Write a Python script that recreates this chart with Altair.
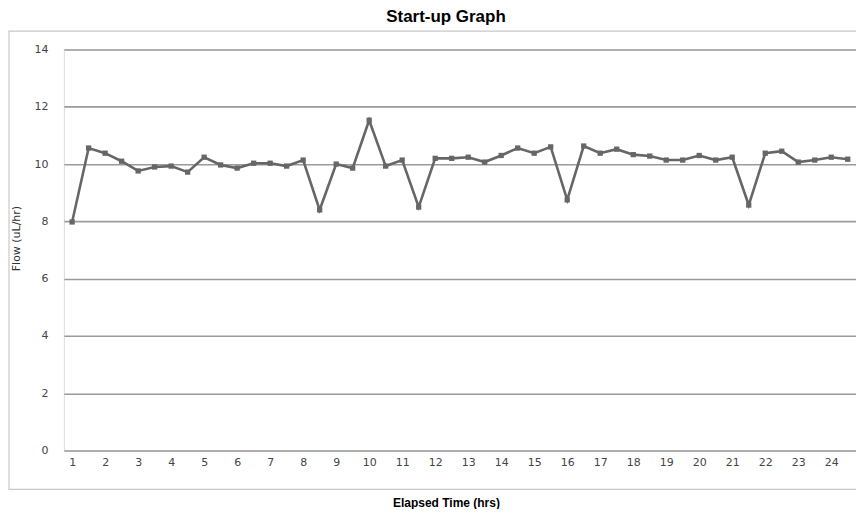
import altair as alt
import pandas as pd

hours = [1, 1.5, 2, 2.5, 3, 3.5, 4, 4.5, 5, 5.5, 6, 6.5, 7, 7.5, 8, 8.5,
         9, 9.5, 10, 10.5, 11, 11.5, 12, 12.5, 13, 13.5, 14, 14.5, 15, 15.5,
         16, 16.5, 17, 17.5, 18, 18.5, 19, 19.5, 20, 20.5, 21, 21.5, 22, 22.5,
         23, 23.5, 24, 24.5]
flow = [7.98, 10.56, 10.38, 10.1, 9.76, 9.9, 9.93, 9.72, 10.24, 9.97, 9.86, 10.03,
        10.03, 9.93, 10.14, 8.4, 10.0, 9.86, 11.53, 9.93, 10.14, 8.5, 10.2, 10.2,
        10.24, 10.07, 10.3, 10.56, 10.38, 10.6, 8.75, 10.63, 10.38, 10.52, 10.33, 10.28,
        10.14, 10.14, 10.3, 10.14, 10.24, 8.57, 10.38, 10.45, 10.07, 10.14, 10.24, 10.17]
x_ticks = list(range(1, 25))
y_ticks = [0, 2, 4, 6, 8, 10, 12, 14]

df = pd.DataFrame({"hour": hours, "flow": flow})

FONT = "DejaVu Sans"

xenc = alt.X("hour:Q", scale=alt.Scale(domain=[0.75, 24.75], nice=False, zero=False),
             axis=alt.Axis(values=x_ticks, grid=False, ticks=False, domain=False,
                           labelOverlap=False, labelFont=FONT, labelFontSize=11,
                           labelColor="#444", labelPadding=6, title="Elapsed Time (hrs)",
                           titleFont="Liberation Sans", titleFontSize=12, titleFontWeight="bold",
                           titleColor="#000", titleX=383, titleY=52, titleAlign="center",
                           titleBaseline="middle"))
yenc = alt.Y("flow:Q", scale=alt.Scale(domain=[0, 14], nice=False),
             axis=alt.Axis(values=y_ticks, grid=True, gridColor="#9a9a9a", gridWidth=1.6,
                           ticks=False, domain=False, labelOverlap=False, labelFont=FONT,
                           labelFontSize=11, labelColor="#444", labelPadding=16,
                           title="Flow (uL/hr)", titleFont=FONT, titleFontSize=11,
                           titleFontWeight="normal", titleColor="#333", titleX=-47,
                           titleY=189, titleAngle=270, titleAlign="center",
                           titleBaseline="middle"))

border = alt.Chart(df).mark_rect(fill=None, stroke="#c8c8c8", strokeWidth=1.2).encode(
    x=alt.value(-55), x2=alt.value(798), y=alt.value(-18.5), y2=alt.value(441)
).transform_filter("datum.hour == 1")

line = alt.Chart(df).mark_line(color="#666666", strokeWidth=2.6).encode(x=xenc, y=yenc)
pts = alt.Chart(df).mark_point(filled=True, shape="square", size=28, color="#666666",
                               opacity=1).encode(x=xenc, y=yenc)

chart = alt.layer(border, line, pts).properties(
    width=794, height=402,
    title=alt.TitleParams("Start-up Graph", font="Liberation Sans", fontSize=17,
                          fontWeight="bold", color="#000", anchor="middle", dx=-14,
                          offset=0, dy=-4),
    autosize=alt.AutoSizeParams(type="none"),
    padding={"left": 56, "top": 41, "right": 0, "bottom": 58},
).configure_view(stroke="transparent", strokeWidth=0).configure_axis(
    domain=False, ticks=False
).configure_axisX(grid=False).configure(background="white")

chart.save("out.html", embed_options={"renderer": "svg", "actions": False})
